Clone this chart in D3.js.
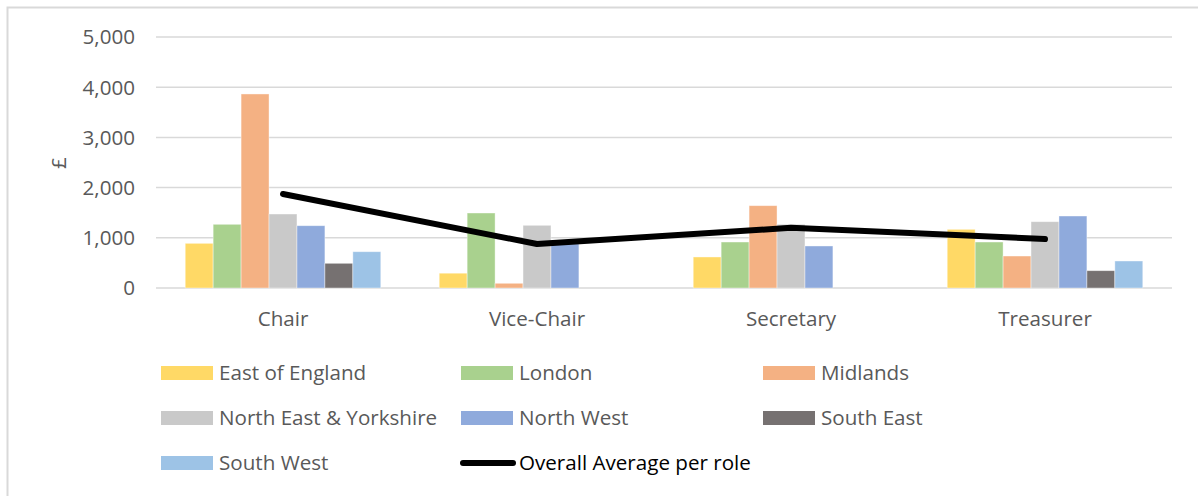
<!DOCTYPE html>
<html>
<head>
<meta charset="utf-8">
<script src="https://cdn.jsdelivr.net/npm/d3@7"></script>
<style>
    html, body { margin: 0; padding: 0; background: #ffffff; }
    svg { display: block; font-family: 'Open Sans', 'Liberation Sans', sans-serif; }
</style>
</head>
<body>
<div id="chart"></div>
<script>

// roles along the x axis
var roles = ['Chair', 'Vice-Chair', 'Secretary', 'Treasurer'];

// regions, one bar each per role
var regions = ['East of England', 'London', 'Midlands', 'North East & Yorkshire', 'North West', 'South East', 'South West'];

var regionColours = ['#FFD966', '#A9D18E', '#F4B183', '#C9C9C9', '#8FAADC', '#767171', '#9DC3E6'];

// values per region, in role order
var eastOfEngland = [890, 295, 618, 1169];
var london = [1269, 1494, 916, 916];
var midlands = [3865, 94, 1640, 637];
var northEastYorkshire = [1474, 1249, 1269, 1321];
var northWest = [1241, 880, 837, 1434];
var southEast = [492, 0, 0, 345];
var southWest = [723, 0, 0, 538];

var overallAverage = [1873, 876, 1198, 976];

var yTicks = [0, 1000, 2000, 3000, 4000, 5000];

var seriesValues = [eastOfEngland, london, midlands, northEastYorkshire, northWest, southEast, southWest];

var width = 1198;
var height = 496;
var textColour = '#595959';
var fontSize = '20.6px';

var svg = d3.select('#chart').append('svg')
    .attr('width', width)
    .attr('height', height);

// outer chart frame (right and bottom edges sit off-canvas)
svg.append('rect')
    .attr('x', 7.5)
    .attr('y', 7.5)
    .attr('width', width + 20)
    .attr('height', height + 20)
    .attr('fill', 'none')
    .attr('stroke', '#d9d9d9')
    .attr('stroke-width', 2);

var x0 = d3.scaleBand()
    .domain(roles)
    .range([156, 1172])
    .paddingInner(0.23)
    .paddingOuter(0.115);

var x1 = d3.scaleBand()
    .domain(regions)
    .range([0, x0.bandwidth()]);

var y = d3.scaleLinear()
    .domain([0, 5000])
    .range([288, 37]);

// gridlines
svg.selectAll('.grid')
    .data(yTicks).enter()
    .append('line')
    .attr('class', 'grid')
    .attr('x1', 156)
    .attr('x2', 1172)
    .attr('y1', function(d) { return y(d); })
    .attr('y2', function(d) { return y(d); })
    .attr('stroke', '#d9d9d9')
    .attr('stroke-width', 1.5);

// y axis labels
svg.selectAll('.ytick')
    .data(yTicks).enter()
    .append('text')
    .attr('class', 'ytick')
    .attr('x', 135)
    .attr('y', function(d) { return y(d); })
    .attr('dy', '0.36em')
    .attr('text-anchor', 'end')
    .attr('fill', textColour)
    .style('font-size', fontSize)
    .text(function(d) { return d3.format(',')(d); });

svg.append('text')
    .attr('transform', 'translate(66,163) rotate(-90)')
    .attr('text-anchor', 'middle')
    .attr('fill', textColour)
    .style('font-size', fontSize)
    .text('£');

// bars
var groups = svg.selectAll('.role')
    .data(roles).enter()
    .append('g')
    .attr('class', 'role')
    .attr('transform', function(d) { return 'translate(' + x0(d) + ',0)'; });

groups.selectAll('rect')
    .data(function(role, roleIndex) {
        return regions.map(function(region, i) {
            return { region: region, value: seriesValues[i][roleIndex], colour: regionColours[i] };
        });
    })
    .enter()
    .append('rect')
    .attr('x', function(d) { return x1(d.region); })
    .attr('y', function(d) { return y(d.value); })
    .attr('width', x1.bandwidth())
    .attr('height', function(d) { return y(0) - y(d.value); })
    .attr('fill', function(d) { return d.colour; })
    .attr('stroke', 'rgba(255,255,255,0.5)')
    .attr('stroke-width', 0.8);

// category labels
svg.selectAll('.role-label')
    .data(roles).enter()
    .append('text')
    .attr('class', 'role-label')
    .attr('x', function(d) { return x0(d) + x0.bandwidth() / 2; })
    .attr('y', 319)
    .attr('dy', '0.36em')
    .attr('text-anchor', 'middle')
    .attr('fill', textColour)
    .style('font-size', fontSize)
    .text(function(d) { return d; });

// overall average line
var line = d3.line()
    .x(function(d, i) { return x0(roles[i]) + x0.bandwidth() / 2; })
    .y(function(d) { return y(d); });

svg.append('path')
    .datum(overallAverage)
    .attr('d', line)
    .attr('fill', 'none')
    .attr('stroke', '#000000')
    .attr('stroke-width', 6)
    .attr('stroke-linecap', 'round')
    .attr('stroke-linejoin', 'round');

// legend
var legendItems = regions.map(function(r, i) { return { name: r, colour: regionColours[i], type: 'bar' }; });
legendItems.push({ name: 'Overall Average per role', colour: '#000000', type: 'line' });

var legendCols = [161, 461, 763];
var legendRows = [373, 418, 463];

var legend = svg.selectAll('.legend')
    .data(legendItems).enter()
    .append('g')
    .attr('class', 'legend')
    .attr('transform', function(d, i) {
        return 'translate(' + legendCols[i % 3] + ',' + legendRows[Math.floor(i / 3)] + ')';
    });

legend.filter(function(d) { return d.type === 'bar'; })
    .append('rect')
    .attr('x', 0)
    .attr('y', -7)
    .attr('width', 52)
    .attr('height', 14)
    .attr('fill', function(d) { return d.colour; });

legend.filter(function(d) { return d.type === 'line'; })
    .append('line')
    .attr('x1', 2)
    .attr('x2', 52)
    .attr('y1', 0)
    .attr('y2', 0)
    .attr('stroke', '#000000')
    .attr('stroke-width', 6)
    .attr('stroke-linecap', 'round');

legend.append('text')
    .attr('x', 58)
    .attr('y', 0)
    .attr('dy', '0.36em')
    .attr('fill', function(d) { return d.type === 'line' ? '#000000' : textColour; })
    .style('font-size', fontSize)
    .text(function(d) { return d.name; });

</script>
</body>
</html>
